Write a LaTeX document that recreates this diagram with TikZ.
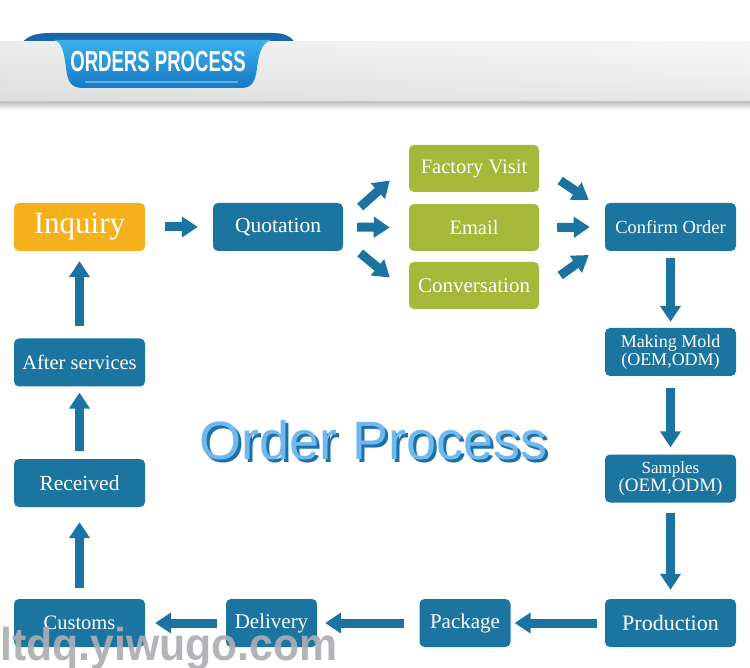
\documentclass[tikz,border=0pt]{standalone}
\usepackage{fontspec}
\setmainfont{Liberation Serif}
\newfontfamily\hsans{Liberation Sans}
\usetikzlibrary{arrows.meta}
\definecolor{boxblue}{RGB}{27,117,160}
\definecolor{arrblue}{RGB}{26,115,160}
\definecolor{boxgreen}{RGB}{166,184,58}
\definecolor{boxorange}{RGB}{245,177,27}
\definecolor{ribtop}{RGB}{60,176,236}
\definecolor{ribbot}{RGB}{22,120,196}
\definecolor{ribear}{RGB}{26,104,170}
\definecolor{titlelight}{RGB}{112,184,238}
\definecolor{titledark}{RGB}{27,114,168}
\definecolor{wmgray}{RGB}{172,174,180}
\tikzset{
  box/.style={rounded corners=5pt, fill=boxblue, text=white, inner sep=0pt,
    minimum width=131pt, minimum height=48pt, align=center},
  gbox/.style={box, fill=boxgreen, minimum width=130pt, minimum height=47pt},
  sbox/.style={box, minimum width=91pt},
  flow/.style={draw=arrblue, line width=9pt, -{Triangle[width=20pt,length=16pt]}},
  fs/.style={font=\fontsize{#1}{#1}\selectfont}
}
\begin{document}
\begin{tikzpicture}[x=1pt,y=-1pt]
\useasboundingbox (0,0) rectangle (750,668);
\fill[white] (0,0) rectangle (750,668);
% header band
\fill[ribear] (22,43) .. controls (28,35) and (38,33) .. (50,33) -- (272,33) .. controls (284,33) and (291,36) .. (295,43) -- cycle;
\shade[top color=black!30, bottom color=white] (0,100) rectangle (750,110);
\shade[left color=black!14, right color=black!6] (0,42) rectangle (750,102);
\shade[top color=white, bottom color=black!12, opacity=0.5] (0,42) rectangle (750,102);
\draw[black!22, line width=1pt] (0,101.5) -- (750,101.5);
% ribbon body
\shade[top color=ribtop, bottom color=ribbot]
  (54,40) .. controls (62,42) and (64,52) .. (66,68) .. controls (68,84) and (72,88) .. (84,88)
  -- (240,88) .. controls (251,88) and (255,84) .. (257,68) .. controls (259,52) and (262,42) .. (272,40) -- cycle;
\draw[white, opacity=0.35, line width=1.2pt] (85,82) -- (238,82);
\node[text=white, font=\hsans\bfseries\fontsize{29}{29}\selectfont] (hdr) at (158,62) {\scalebox{0.64}[1]{ORDERS PROCESS}};
% nodes
\node[box, fill=boxorange, fs=31] (inq) at (79.5,227) {Inquiry};
\node[box, minimum width=130pt, fs=21.5] (quo) at (278,227) {Quotation};
\node[gbox, fs=20.5] (fv) at (474,168.5) {Factory Visit};
\node[gbox, fs=20.5] (em) at (474,227.5) {Email};
\node[gbox, fs=21] (conv) at (474,285.5) {Conversation};
\node[box, fs=18.5] (co) at (670.5,227) {Confirm Order};
\node[box, fs=18] (mm) at (670.5,352) {Making Mold\\(OEM,ODM)};
\node[box] (sa) at (670.5,478.5) {{\fontsize{17}{18}\selectfont Samples}\\{\fontsize{19}{19}\selectfont (OEM,ODM)}};
\node[box, fs=22] (pr) at (670.5,623) {Production};
\node[sbox, fs=21] (pa) at (465,623) {Package};
\node[sbox, fs=21] (de) at (271.5,623) {Delivery};
\node[box, fs=20.5] (cu) at (79.5,623) {Customs};
\node[box, fs=21.5] (re) at (79.5,483) {Received};
\node[box, fs=20.5] (af) at (79.5,362.5) {After services};
% connectors
\draw[flow] ([xshift=20pt]inq.east) -- ([xshift=-15pt]quo.west);
\draw[flow] ([xshift=14pt]quo.east) -- ([xshift=-19pt]em.west);
\draw[flow] ([shift={(17,-20)}]quo.east) -- ([shift={(-19,12)}]fv.west);
\draw[flow] ([shift={(17,26)}]quo.east) -- ([shift={(-19,-8)}]conv.west);
\draw[flow] ([shift={(21,12)}]fv.east) -- ([shift={(-16,-27)}]co.west);
\draw[flow] ([xshift=18pt]em.east) -- ([xshift=-15pt]co.west);
\draw[flow] ([shift={(21,-10)}]conv.east) -- ([shift={(-16,28)}]co.west);
\draw[flow] ([yshift=-7pt]co.south) -- ([yshift=6pt]mm.north);
\draw[flow] ([yshift=-12pt]mm.south) -- ([yshift=7pt]sa.north);
\draw[flow] ([yshift=-10pt]sa.south) -- ([yshift=9pt]pr.north);
\draw[flow] ([xshift=-8pt]pr.west) -- ([xshift=4pt]pa.east);
\draw[flow] ([xshift=-15pt]pa.west) -- ([xshift=8pt]de.east);
\draw[flow] ([xshift=-9pt]de.west) -- ([xshift=10pt]cu.east);
\draw[flow] ([yshift=11pt]cu.north) -- ([yshift=-15pt]re.south);
\draw[flow] ([yshift=8pt]re.south |- re.north) -- ([yshift=-6pt]af.south);
\draw[flow] ([yshift=12pt]af.north) -- ([yshift=-10pt]inq.south);
% central title
\node[text=titledark, font=\hsans\fontsize{54}{54}\selectfont] (tsh) at (377,443) {Order Process};
\node[text=titlelight, font=\hsans\fontsize{54}{54}\selectfont] (ttl) at (374,440) {Order Process};
% watermark
\node[anchor=south west, inner sep=0pt, text=wmgray, opacity=0.92, font=\hsans\bfseries\fontsize{46}{46}\selectfont] (wm) at (0,670) {\scalebox{0.93}[1]{ltdq.yiwugo.com}};
\end{tikzpicture}
\end{document}
